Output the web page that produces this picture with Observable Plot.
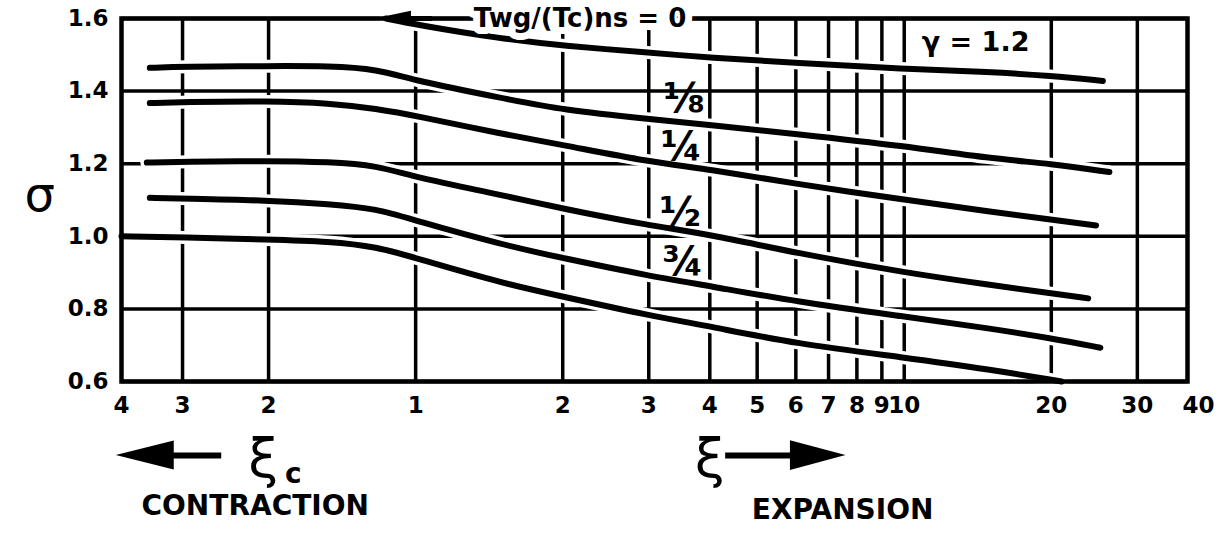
<!DOCTYPE html>
<html>
<head>
<meta charset="utf-8">
<script src="https://cdn.jsdelivr.net/npm/d3@7"></script>
<script src="https://cdn.jsdelivr.net/npm/@observablehq/plot@0.6"></script>
<style>
  html, body { margin: 0; padding: 0; background: #fff; }
  #chart svg { display: block; }
</style>
</head>
<body>
<div id="chart"></div>
<script>
// Series: Twg/(Tc)ns ratio, gamma = 1.2
const seriesNames = ["0", "1/8", "1/4", "1/2", "3/4", "1"];
const curveLabels = ["", "⅛", "¼", "½", "¾", ""];

// Contraction side points: [ξc, σ]
const contraction0 = [[1.15, 1.600]];
const contraction1 = [[3.5, 1.464], [3, 1.467], [2, 1.469], [1.5, 1.469], [1.2, 1.461]];
const contraction2 = [[3.5, 1.367], [3, 1.370], [2, 1.373], [1.5, 1.367], [1.2, 1.351]];
const contraction3 = [[3.55, 1.203], [3, 1.205], [2, 1.208], [1.5, 1.205], [1.2, 1.195]];
const contraction4 = [[3.5, 1.106], [3, 1.104], [2, 1.099], [1.5, 1.089], [1.2, 1.076]];
const contraction5 = [[4, 1.000], [3, 0.997], [2, 0.991], [1.5, 0.986], [1.2, 0.971]];

// Expansion side points: [ξ, σ]
const expansion0 = [[1, 1.583], [1.5, 1.544], [2, 1.525], [3, 1.506], [4, 1.492], [6, 1.478], [10, 1.461], [15, 1.453], [20, 1.442], [25.5, 1.428]];
const expansion1 = [[1, 1.428], [1.5, 1.381], [2, 1.348], [3, 1.323], [4, 1.307], [6, 1.282], [10, 1.249], [15, 1.214], [20, 1.200], [26.3, 1.177]];
const expansion2 = [[1, 1.332], [1.5, 1.282], [2, 1.252], [3, 1.205], [4, 1.185], [6, 1.144], [10, 1.101], [15, 1.068], [20, 1.046], [24.7, 1.030]];
const expansion3 = [[1, 1.162], [1.5, 1.114], [2, 1.076], [3, 1.030], [4, 1.005], [6, 0.954], [10, 0.900], [15, 0.866], [20, 0.843], [23.8, 0.829]];
const expansion4 = [[1, 1.043], [1.5, 0.977], [2, 0.940], [3, 0.891], [4, 0.863], [6, 0.820], [10, 0.779], [15, 0.746], [20, 0.719], [25.2, 0.693]];
const expansion5 = [[1, 0.940], [1.5, 0.871], [2, 0.834], [3, 0.782], [4, 0.752], [6, 0.704], [10, 0.666], [15, 0.633], [21, 0.600]];

const contractionSets = [contraction0, contraction1, contraction2, contraction3, contraction4, contraction5];
const expansionSets = [expansion0, expansion1, expansion2, expansion3, expansion4, expansion5];

// Curve label anchor (ξ on expansion side, σ)
const labelXi = [null, 3.54, 3.50, 3.48, 3.52, null];
const labelSigma = [null, 1.377, 1.245, 1.063, 0.928, null];

// Axis ticks
const contractionTicks = [4, 3, 2];
const expansionTicks = [1, 2, 3, 4, 5, 6, 7, 8, 9, 10, 20, 30, 40];
const contractionGrid = [3, 2];
const expansionGrid = [1, 2, 3, 4, 5, 6, 7, 8, 9, 10, 20, 30];
const sigmaTicks = [0.6, 0.8, 1.0, 1.2, 1.4, 1.6];

// Position on the folded log axis: contraction to the left of 1, expansion to the right
const uC = (xi) => -Math.log10(xi);
const uE = (xi) => Math.log10(xi);

const rows = [];
seriesNames.forEach((name, i) => {
  contractionSets[i].forEach(([xi, s]) => rows.push({series: name, u: uC(xi), sigma: s}));
  expansionSets[i].forEach(([xi, s]) => rows.push({series: name, u: uE(xi), sigma: s}));
});
rows.sort((a, b) => d3.ascending(a.series, b.series) || a.u - b.u);

const tickRows = [
  ...contractionTicks.map((t) => ({u: uC(t), label: String(t)})),
  ...expansionTicks.map((t) => ({u: uE(t), label: String(t)}))
];
const gridU = [...contractionGrid.map(uC), ...expansionGrid.map(uE)];

const labelRows = seriesNames
  .map((name, i) => ({label: curveLabels[i], u: labelXi[i] == null ? null : uE(labelXi[i]), sigma: labelSigma[i]}))
  .filter((d) => d.label);

const FONT = "'DejaVu Sans', 'Liberation Sans', sans-serif";

const plot = Plot.plot({
  width: 1225,
  height: 533,
  marginLeft: 121,
  marginRight: 38,
  marginTop: 18,
  marginBottom: 152,
  x: {type: "linear", domain: [uC(4), uE(38)], axis: null},
  y: {domain: [0.6, 1.6], axis: null},
  style: {fontFamily: FONT, fontWeight: "bold", background: "white", color: "black", overflow: "visible"},
  marks: [
    // grid
    Plot.ruleX(gridU, {stroke: "black", strokeWidth: 3.5}),
    Plot.ruleY(sigmaTicks, {stroke: "black", strokeWidth: 3.5}),
    // curve halos (break the grid around the curves)
    Plot.line(rows, {x: "u", y: "sigma", z: "series", stroke: "white", strokeWidth: 13, curve: "basis", strokeLinecap: "round"}),
    Plot.line(rows, {x: "u", y: "sigma", z: "series", stroke: "black", strokeWidth: 6, curve: "basis", strokeLinecap: "round"}),
    Plot.frame({stroke: "black", strokeWidth: 4.5}),
    // y tick labels
    Plot.text(sigmaTicks, {x: uC(4), y: (d) => d, text: (d) => d.toFixed(1), textAnchor: "end", dx: -13, fontSize: 23, fontWeight: "bold"}),
    // x tick labels
    Plot.text(tickRows, {x: "u", text: "label", frameAnchor: "bottom", dy: 31, fontSize: 23, fontWeight: "bold"}),
    // sigma axis title
    Plot.text(["σ"], {frameAnchor: "left", dx: -97, dy: -4, fontSize: 48, fontWeight: "normal"}),
    // curve labels
    Plot.text(labelRows, {x: "u", y: "sigma", text: "label", fontSize: 40, fontWeight: "bold"}),
    // top label with arrow
    Plot.text(["Twg/(Tc)ns = 0"], {x: uE(2.17), y: 1.6, fontSize: 26, fontWeight: "bold", stroke: "white", strokeWidth: 14, fill: "black", paintOrder: "stroke"}),
    Plot.link([0], {x1: uC(1.07), x2: uE(1.08), y1: 1.6, y2: 1.6, stroke: "black", strokeWidth: 5}),
    Plot.areaY([{u: uC(1.2), y1: 1.6, y2: 1.6}, {u: uC(1.02), y1: 1.58, y2: 1.62}], {x: "u", y1: "y1", y2: "y2", fill: "black"}),
    // gamma
    Plot.text(["γ = 1.2"], {x: uE(14.0), y: 1.534, fontSize: 27, fontWeight: "bold"}),
    // contraction annotation
    Plot.areaY([{u: uC(4.1), y1: 0.396, y2: 0.396}, {u: uC(3.12), y1: 0.356, y2: 0.436}], {x: "u", y1: "y1", y2: "y2", fill: "black"}),
    Plot.link([0], {x1: uC(3.2), x2: uC(2.5), y1: 0.396, y2: 0.396, stroke: "black", strokeWidth: 6}),
    Plot.text(["ξ"], {x: uC(2.05), y: 0.385, fontSize: 54, fontWeight: "normal"}),
    Plot.text(["c"], {x: uC(1.78), y: 0.345, fontSize: 28, fontWeight: "bold"}),
    Plot.text(["CONTRACTION"], {x: uC(2.13), y: 0.258, fontSize: 28, fontWeight: "bold"}),
    // expansion annotation
    Plot.text(["ξ"], {x: uE(4.0), y: 0.385, fontSize: 54, fontWeight: "normal"}),
    Plot.link([0], {x1: uE(4.3), x2: uE(6.0), y1: 0.396, y2: 0.396, stroke: "black", strokeWidth: 6}),
    Plot.areaY([{u: uE(5.85), y1: 0.355, y2: 0.437}, {u: uE(7.6), y1: 0.396, y2: 0.396}], {x: "u", y1: "y1", y2: "y2", fill: "black"}),
    Plot.text(["EXPANSION"], {x: uE(7.48), y: 0.247, fontSize: 28, fontWeight: "bold"})
  ]
});

document.getElementById("chart").appendChild(plot);
</script>
</body>
</html>
